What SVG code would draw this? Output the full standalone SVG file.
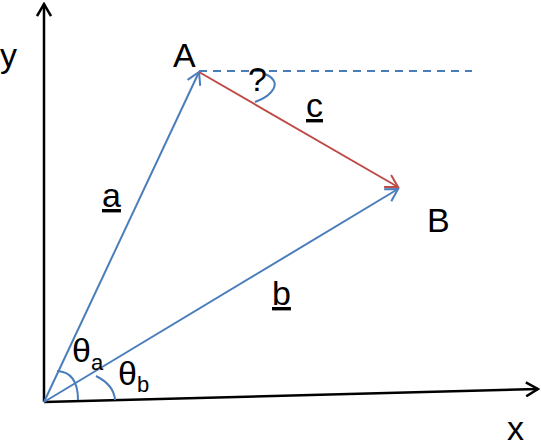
<svg xmlns="http://www.w3.org/2000/svg" width="541" height="446" viewBox="0 0 541 446">
<style>
text{font-family:"Liberation Sans",Arial,sans-serif;fill:#000}
.lbl{font-size:34px}
.sub{font-size:22px}
.ax{stroke:#000;stroke-width:2.5;fill:none}
.bl{stroke:#4a7ebb;stroke-width:2;fill:none}
.rd{stroke:#be4b48;stroke-width:2;fill:none}
</style>
<defs>
<marker id="ak" markerWidth="16" markerHeight="16" refX="14" refY="8" orient="auto" markerUnits="userSpaceOnUse"><path d="M2,1 L14,8 L2,15" fill="none" stroke="#000" stroke-width="2.5"/></marker>
<marker id="ab" markerWidth="16" markerHeight="16" refX="14" refY="8" orient="auto" markerUnits="userSpaceOnUse"><path d="M2,1 L14,8 L2,15" fill="none" stroke="#4a7ebb" stroke-width="2"/></marker>
<marker id="ar" markerWidth="16" markerHeight="16" refX="14" refY="8" orient="auto" markerUnits="userSpaceOnUse"><path d="M2,1 L14,8 L2,15" fill="none" stroke="#be4b48" stroke-width="2"/></marker>
</defs>
<g id="axes">
<line class="ax" x1="44" y1="402" x2="44" y2="4" marker-end="url(#ak)"/>
<line class="ax" x1="44" y1="402" x2="538" y2="389" marker-end="url(#ak)"/>
<text class="lbl" x="0" y="67">y</text>
<text class="lbl" x="507" y="440">x</text>
</g>
<g id="connectors">
<line class="bl" x1="44" y1="402" x2="199" y2="72" marker-end="url(#ab)"/>
<line class="bl" x1="44" y1="402" x2="398" y2="189" marker-end="url(#ab)"/>
<line class="rd" x1="199" y1="72" x2="398" y2="187" marker-end="url(#ar)"/>
<line class="bl" x1="199" y1="71" x2="472" y2="71" stroke-dasharray="8,6"/>
<path class="bl" d="M57,371 Q78,372 78,400"/>
<path class="bl" d="M96,376 Q114,385 115,400"/>
<path class="bl" d="M255,102 C272,96 284,82 265,74"/>
</g>
<g id="A"><text class="lbl" x="173" y="67">A</text></g>
<g id="B"><text class="lbl" x="427" y="232">B</text></g>
<g id="labels">
<text class="lbl" x="102" y="207" text-decoration="underline">a</text>
<text class="lbl" x="272" y="305" text-decoration="underline">b</text>
<text class="lbl" x="306" y="117" text-decoration="underline">c</text>
<text class="lbl" x="248" y="91">?</text>
<text class="lbl" x="72" y="362">θ<tspan class="sub" dy="8">a</tspan></text>
<text class="lbl" x="118" y="385">θ<tspan class="sub" dy="7">b</tspan></text>
</g>
</svg>
